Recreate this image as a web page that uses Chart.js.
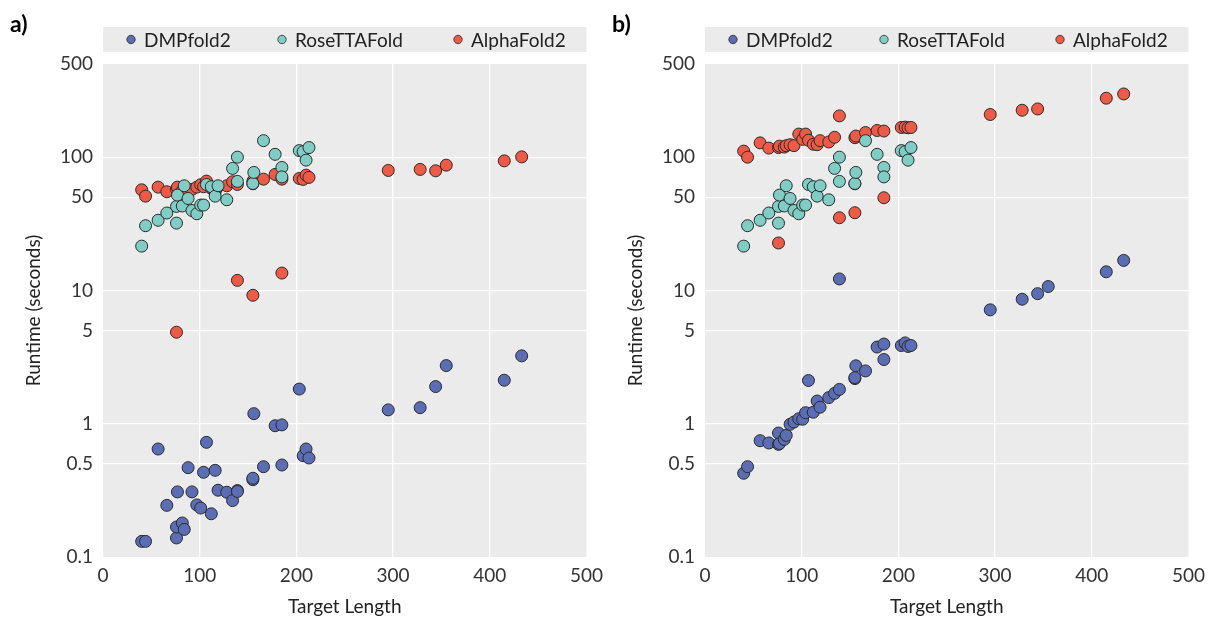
<!DOCTYPE html>
<html><head><meta charset="utf-8">
<script src="https://cdn.jsdelivr.net/npm/chart.js@4.4.1/dist/chart.umd.min.js"></script>
<style>
html,body{margin:0;padding:0;background:#fff;width:1217px;height:619px;overflow:hidden}
.panel{position:absolute;top:0;width:610px;height:619px}
#wa{left:0}#wb{left:602px}
</style></head><body>
<div class="panel" id="wa"><canvas id="ca" width="610" height="619"></canvas></div>
<div class="panel" id="wb"><canvas id="cb" width="610" height="619"></canvas></div>
<script>
// ---- data ----
const seriesNames = ['DMPfold2', 'RoseTTAFold', 'AlphaFold2'];
const targetLength = [40, 44, 57, 66, 76, 76, 77, 82, 84, 88, 92, 97, 101, 104, 107, 112, 116, 119, 128, 134, 139, 139, 155, 155, 156, 166, 178, 185, 185, 203, 207, 210, 213, 295, 328, 344, 355, 415, 433];
// panel a
const dmpfoldA = [0.131, 0.131, 0.646, 0.244, 0.139, 0.168, 0.308, 0.180, 0.161, 0.468, 0.308, 0.246, 0.233, 0.432, 0.725, 0.211, 0.447, 0.317, 0.306, 0.265, 0.315, 0.31, 0.38, 0.39, 1.19, 0.476, 0.966, 0.98, 0.49, 1.82, 0.576, 0.646, 0.553, 1.27, 1.32, 1.90, 2.73, 2.12, 3.23];
const rosettaA = [21.5, 30.6, 33.6, 38.1, 32.0, 42.7, 51.9, 43, 61, 49, 39.8, 37.6, 43.7, 43.7, 62.4, 60, 51, 61, 47.9, 82.3, 100, 65.8, 63.1, 63.5, 76.8, 133, 105, 83.7, 71.1, 112, 110, 95, 118, null, null, null, null, null, null];
const alphafoldA = [56.9, 51, 59.6, 55, 57.5, 4.86, 59.6, 56, 53.5, 55.6, 57.3, 59.6, 62.1, 60, 66.1, 58.3, 55, 60, 61, 65.4, 62.4, 11.9, 9.2, 66, 67.3, 68.4, 74.2, 68.4, 13.5, 69.2, 68.1, 73.3, 70.5, 79.5, 80.9, 79, 87.1, 93.8, 100.5];
// panel b
const dmpfoldB = [0.425, 0.476, 0.746, 0.717, 0.851, 0.70, 0.71, 0.763, 0.818, 0.99, 1.03, 1.09, 1.08, 1.21, 2.11, 1.22, 1.48, 1.33, 1.57, 1.69, 1.81, 12.2, 2.18, 2.22, 2.72, 2.49, 3.76, 3.96, 3.03, 3.86, 4.04, 3.80, 3.86, 7.15, 8.59, 9.46, 10.7, 13.8, 16.8];
const rosettaB = [21.5, 30.6, 33.6, 38.1, 32.0, 42.7, 51.9, 43, 61, 49, 39.8, 37.6, 43.7, 43.7, 62.4, 60, 51, 61, 47.9, 82.3, 100, 65.8, 63.1, 63.5, 76.8, 133, 105, 83.7, 71.1, 112, 110, 95, 118, null, null, null, null, null, null];
const alphafoldB = [111, 100, 128, 117, 118, 22.7, 121, 119, 122, 124, 122, 149, 136, 149, 134, 125, 124, 133, 130, 141, 204, 35.1, 38.3, 140, 144, 153, 158.5, 157, 49.6, 167, 168, 166, 167, 209, 225, 230, null, 277, 298];
const yTickValues = [0.1, 0.5, 1, 5, 10, 50, 100, 500];
const xTickValues = [0, 100, 200, 300, 400, 500];

// ---- styling ----
const seriesColors = ['#5b6db4', '#7fcdc4', '#ee5a45'];
const FONT = 'Lato, "Open Sans", sans-serif';

function pts(ys) {
  const out = [];
  ys.forEach((y, i) => { if (y !== null) out.push({x: targetLength[i], y: y}); });
  return out;
}

const panelDecor = {
  id: 'panelDecor',
  beforeDraw(chart, args, o) {
    const {ctx, chartArea: a} = chart;
    ctx.save();
    ctx.fillStyle = o.bg;
    ctx.fillRect(a.left, a.top, a.right - a.left, a.bottom - a.top);
    ctx.fillRect(a.left, o.legendTop, a.right - a.left, o.legendHeight);
    ctx.restore();
  },
  afterDraw(chart, args, o) {
    const {ctx, chartArea: a} = chart;
    ctx.save();
    const cy = o.legendTop + o.legendHeight / 2;
    ctx.font = o.legendFont;
    ctx.textBaseline = 'middle';
    ctx.textAlign = 'left';
    chart.data.datasets.forEach((ds, i) => {
      const mx = a.left + o.markerOffsets[i];
      ctx.beginPath();
      ctx.arc(mx, cy, o.markerRadius, 0, Math.PI * 2);
      ctx.fillStyle = ds.backgroundColor;
      ctx.fill();
      ctx.lineWidth = 0.8;
      ctx.strokeStyle = ds.borderColor;
      ctx.stroke();
      ctx.fillStyle = o.textColor;
      ctx.fillText(ds.label, mx + o.textGap, cy + 1);
    });
    ctx.font = o.tagFont;
    ctx.textBaseline = 'alphabetic';
    ctx.fillStyle = '#000';
    ctx.fillText(o.tag, o.tagX, o.tagY);
    ctx.restore();
  }
};

function makeChart(id, tag, series) {
  const datasets = series.map((ys, i) => ({
    label: seriesNames[i],
    data: pts(ys),
    backgroundColor: seriesColors[i],
    borderColor: '#2b2b2b',
    borderWidth: 1,
    pointRadius: 6,
    pointHoverRadius: 6
  }));
  return new Chart(document.getElementById(id), {
    type: 'scatter',
    data: {datasets},
    plugins: [panelDecor],
    options: {
      responsive: false,
      animation: false,
      events: [],
      layout: {padding: {top: 64, left: 0, right: 17, bottom: 0}},
      plugins: {
        legend: {display: false},
        tooltip: {enabled: false},
        panelDecor: {
          bg: '#ebebeb', legendTop: 27, legendHeight: 25,
          markerOffsets: [28, 179, 355], markerRadius: 4.2, textGap: 13,
          legendFont: '19px ' + FONT, textColor: '#222',
          tag: tag, tagX: 10, tagY: 32, tagFont: 'bold 23px ' + FONT
        }
      },
      scales: {
        x: {
          type: 'linear', min: 0, max: 500,
          afterBuildTicks: s => { s.ticks = xTickValues.map(v => ({value: v})); },
          afterFit: s => { s.height = 62; },
          grid: {
            color: c => (c.tick && (c.tick.value === 0 || c.tick.value === 500)) ? 'rgba(0,0,0,0)' : '#ffffff',
            lineWidth: 1.3, drawTicks: false
          },
          border: {display: false},
          ticks: {color: '#333', font: {family: FONT, size: 19}, padding: 7, maxRotation: 0},
          title: {display: true, text: 'Target Length', color: '#222', font: {family: FONT, size: 19}, padding: {top: 0, bottom: 1}}
        },
        y: {
          type: 'logarithmic', min: 0.1, max: 500,
          afterBuildTicks: s => { s.ticks = yTickValues.map(v => ({value: v})); },
          afterFit: s => { s.width = 103; },
          grid: {
            color: c => (c.tick && (c.tick.value === 0.1 || c.tick.value === 500)) ? 'rgba(0,0,0,0)' : '#ffffff',
            lineWidth: 1.3, drawTicks: false
          },
          border: {display: false},
          ticks: {color: '#333', font: {family: FONT, size: 19}, padding: 10, callback: v => String(v)},
          title: {display: true, text: 'Runtime (seconds)', color: '#222', font: {family: FONT, size: 19}, padding: {top: 22, bottom: 0}}
        }
      }
    }
  });
}

makeChart('ca', 'a)', [dmpfoldA, rosettaA, alphafoldA]);
makeChart('cb', 'b)', [dmpfoldB, rosettaB, alphafoldB]);
</script>
</body></html>
